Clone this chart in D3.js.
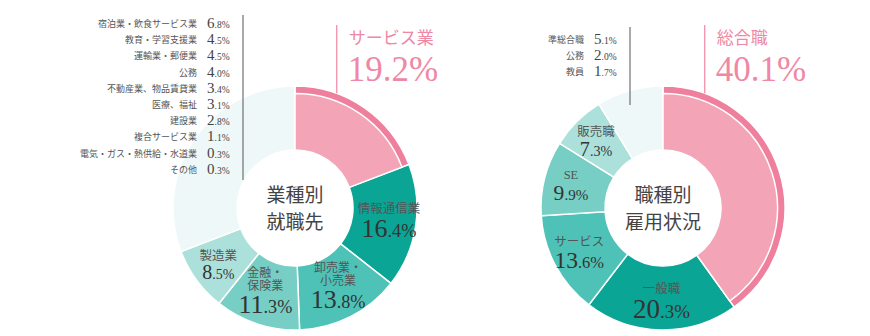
<!DOCTYPE html>
<html lang="ja">
<head>
<meta charset="utf-8">
<script src="https://cdn.jsdelivr.net/npm/d3@7"></script>
<style>
  body { margin: 0; background: #fff; }
  svg { display: block; }
</style>
</head>
<body>
<svg id="chart" width="870" height="336"></svg>
<script>
// 業種別就職先
const industryNames = ["サービス業", "情報通信業", "卸売業・小売業", "金融・保険業", "製造業"];
const industryValues = [19.2, 16.4, 13.8, 11.3, 8.5];
const otherIndustryNames = ["宿泊業・飲食サービス業", "教育・学習支援業", "運輸業・郵便業", "公務",
  "不動産業、物品賃貸業", "医療、福祉", "建設業", "複合サービス業", "電気・ガス・熱供給・水道業", "その他"];
const otherIndustryValues = [6.8, 4.5, 4.5, 4.0, 3.4, 3.1, 2.8, 1.1, 0.3, 0.3];

// 職種別雇用状況
const jobNames = ["総合職", "一般職", "サービス", "SE", "販売職"];
const jobValues = [40.1, 20.3, 13.6, 9.9, 7.3];
const otherJobNames = ["準総合職", "公務", "教員"];
const otherJobValues = [5.1, 2.0, 1.7];

// ---- styling ----
const R_IN = 58, R_OUT = 122, R_HL = 114.5, R_LABEL = 95;
const palette = ["#ee809e", "#0ba596", "#4ec2b6", "#76cec4", "#ace1db", "#eef8f8"];
const highlightFill = "#f4a4b7";
const pinkText = "#ef88a5";
const SERIF = "'Liberation Serif', 'Noto Sans CJK JP', serif";
const SANS = "'Noto Sans CJK JP', sans-serif";

const charts = [
  {
    cx: 295, cy: 208,
    names: industryNames, values: industryValues,
    otherNames: otherIndustryNames, otherValues: otherIndustryValues,
    title: ["業種別", "就職先"],
    list: { lineX: 243, top: 15, bottom: 180, firstY: 27, step: 16.2 },
    numberSize: d3.scaleLinear().domain([8.5, 11]).range([20, 26]).clamp(true)
  },
  {
    cx: 663, cy: 208,
    names: jobNames, values: jobValues,
    otherNames: otherJobNames, otherValues: otherJobValues,
    title: ["職種別", "雇用状況"],
    list: { lineX: 630, top: 27, bottom: 105, firstY: 43, step: 15.8 },
    numberSize: d3.scaleLinear().domain([7, 20]).range([20, 27]).clamp(true)
  }
];

const svg = d3.select("#chart");

function splitValue(v) {
  const [i, f] = v.toFixed(1).split(".");
  return { int: i, frac: "." + f + "%" };
}

charts.forEach(c => {
  const g = svg.append("g").attr("transform", `translate(${c.cx},${c.cy})`);

  const segments = c.names.map((n, i) => ({ name: n, value: c.values[i], idx: i }));
  segments.push({ name: "other", value: d3.sum(c.otherValues), idx: 5 });

  const pie = d3.pie().sort(null).value(d => d.value);
  const arcs = pie(segments);
  const arc = d3.arc().innerRadius(R_IN).outerRadius(R_OUT);
  const hlArc = d3.arc().innerRadius(R_IN).outerRadius(R_HL);
  const labelArc = d3.arc().innerRadius(R_LABEL).outerRadius(R_LABEL);

  g.selectAll("path.seg").data(arcs).join("path")
    .attr("class", "seg")
    .attr("d", arc)
    .attr("fill", d => palette[d.data.idx])
    .attr("stroke", "#fff")
    .attr("stroke-width", 1.5);

  // highlighted segment: lighter body with an outer band
  g.append("path")
    .attr("d", hlArc(arcs[0]))
    .attr("fill", highlightFill)
    .attr("stroke", "#fff")
    .attr("stroke-width", 1.5);

  // centre title
  c.title.forEach((t, i) => {
    g.append("text")
      .attr("x", 0).attr("y", -6.5 + i * 27)
      .attr("text-anchor", "middle")
      .attr("font-family", SANS)
      .attr("font-size", 19)
      .attr("fill", "#444")
      .text(t);
  });

  // segment labels
  arcs.slice(1, 5).forEach(a => {
    const [x, y] = labelArc.centroid(a);
    const name = a.data.name;
    const cut = name.indexOf("・") + 1;
    const lines = cut > 0 ? [name.slice(0, cut), name.slice(cut)] : [name];
    const size = c.numberSize(a.data.value);
    const numY = y + 15;
    const lastNameY = numY - (lines.length > 1 ? size * 0.85 + 1 : size * 0.9 + 1);
    lines.forEach((l, i) => {
      g.append("text")
        .attr("x", x).attr("y", lastNameY - (lines.length - 1 - i) * 13)
        .attr("text-anchor", "middle")
        .attr("font-family", SERIF)
        .attr("font-size", lines.length > 1 ? 12 : 12.5)
        .attr("fill", "#555")
        .text(l);
    });
    const v = splitValue(a.data.value);
    const t = g.append("text")
      .attr("x", x).attr("y", numY)
      .attr("text-anchor", "middle")
      .attr("font-family", SERIF)
      .attr("fill", "#333");
    t.append("tspan").attr("font-size", size).text(v.int);
    t.append("tspan").attr("font-size", size * 0.7).text(v.frac);
  });

  // callout for the highlighted segment
  const ang = 20 * Math.PI / 180;
  const px = c.cx + R_OUT * Math.sin(ang);
  const py = c.cy - R_OUT * Math.cos(ang);
  svg.append("line")
    .attr("x1", px).attr("x2", px)
    .attr("y1", 25).attr("y2", py)
    .attr("stroke", pinkText).attr("stroke-width", 1.2);
  svg.append("text")
    .attr("x", px + 12).attr("y", 44)
    .attr("font-family", SANS)
    .attr("font-size", 17)
    .attr("fill", pinkText)
    .text(c.names[0]);
  svg.append("text")
    .attr("x", px + 11).attr("y", 81)
    .attr("font-family", SERIF)
    .attr("font-size", 35)
    .attr("fill", pinkText)
    .text(c.values[0].toFixed(1) + "%");

  // breakdown list for the remaining segment
  const L = c.list;
  svg.append("line")
    .attr("x1", L.lineX).attr("x2", L.lineX)
    .attr("y1", L.top).attr("y2", L.bottom)
    .attr("stroke", "#555").attr("stroke-width", 1);
  c.otherNames.forEach((n, i) => {
    const yy = L.firstY + i * L.step;
    svg.append("text")
      .attr("x", L.lineX - 46).attr("y", yy)
      .attr("text-anchor", "end")
      .attr("font-family", SANS)
      .attr("font-size", 9)
      .attr("fill", "#555")
      .text(n);
    const v = splitValue(c.otherValues[i]);
    const t = svg.append("text")
      .attr("x", L.lineX - 36).attr("y", yy + 1)
      .attr("font-family", SERIF)
      .attr("fill", "#444");
    t.append("tspan").attr("font-size", 15).text(v.int);
    t.append("tspan").attr("font-size", 9.5).text(v.frac);
  });
});
</script>
</body>
</html>
